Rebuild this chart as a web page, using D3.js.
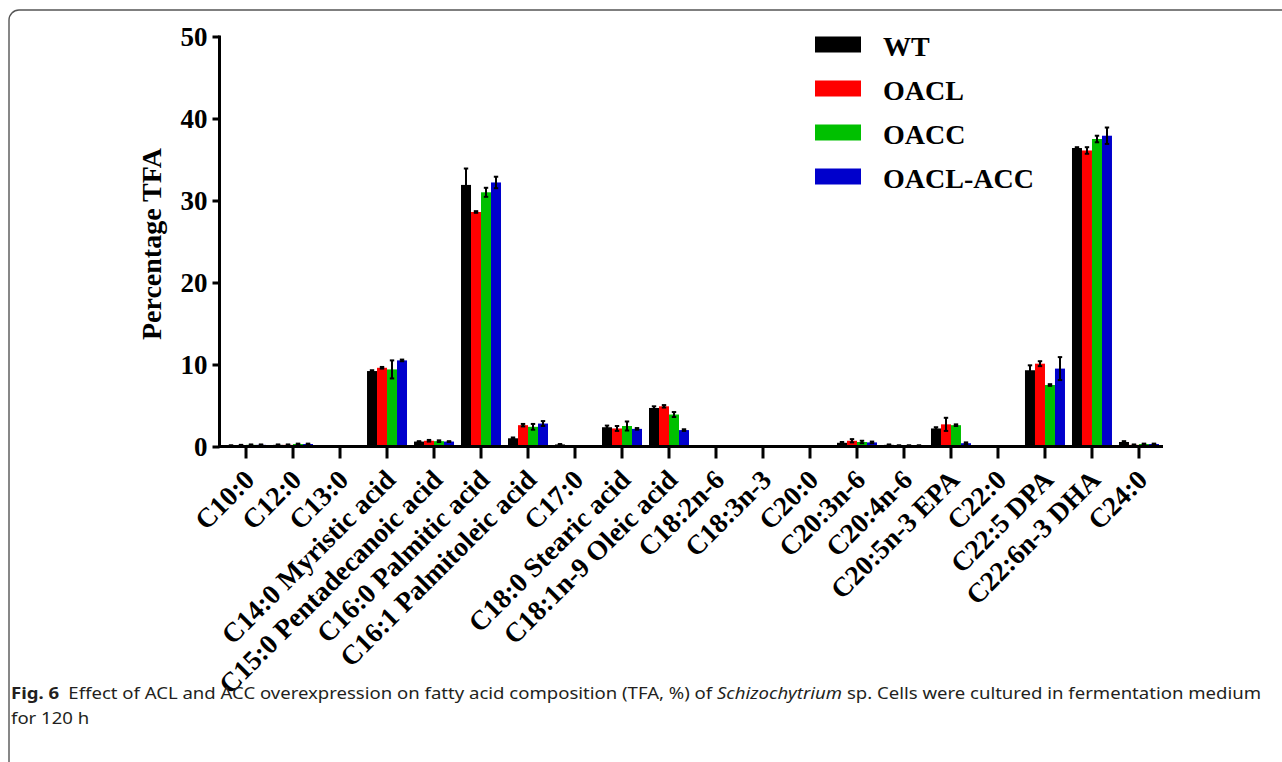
<!DOCTYPE html>
<html>
<head>
<meta charset="utf-8">
<script src="https://cdn.jsdelivr.net/npm/d3@7"></script>
<style>
  html, body { margin: 0; padding: 0; background: #fff; }
  svg { display: block; }
</style>
</head>
<body>
<svg id="chart" width="1282" height="762"></svg>
<script>
// Fatty acid categories along the x axis
const categories = [
  "C10:0", "C12:0", "C13:0", "C14:0 Myristic acid", "C15:0 Pentadecanoic acid",
  "C16:0 Palmitic acid", "C16:1 Palmitoleic acid", "C17:0", "C18:0 Stearic acid",
  "C18:1n-9 Oleic acid", "C18:2n-6", "C18:3n-3", "C20:0", "C20:3n-6", "C20:4n-6",
  "C20:5n-3 EPA", "C22:0", "C22:5 DPA", "C22:6n-3 DHA", "C24:0"
];

// Strains (series)
const seriesNames = ["WT", "OACL", "OACC", "OACL-ACC"];
const seriesColors = ["#000000", "#ff0000", "#00c000", "#0000cc"];

// Percentage of total fatty acids, per strain
const wt      = [0.10, 0.20, 0, 9.2, 0.60, 31.9, 1.00, 0.25, 2.35, 4.7, 0, 0, 0, 0.45, 0.20, 2.2, 0, 9.3, 36.4, 0.55];
const oacl    = [0.15, 0.20, 0, 9.6, 0.70, 28.6, 2.60, 0,    2.20, 4.9, 0, 0, 0, 0.70, 0.10, 2.7, 0, 10.1, 36.1, 0.20];
const oacc    = [0.20, 0.30, 0, 9.4, 0.65, 31.0, 2.40, 0,    2.50, 3.9, 0, 0, 0, 0.55, 0.10, 2.6, 0, 7.5, 37.5, 0.30];
const oaclAcc = [0.20, 0.30, 0, 10.5, 0.60, 32.2, 2.80, 0,   2.15, 2.0, 0, 0, 0, 0.50, 0.10, 0.4, 0, 9.5, 37.9, 0.30];

// Standard deviations
const wtErr      = [0.05, 0.05, 0, 0.1, 0.05, 2.0, 0.10, 0.05, 0.20, 0.20, 0, 0, 0, 0.10, 0.05, 0.15, 0, 0.6, 0.1, 0.10];
const oaclErr    = [0.05, 0.05, 0, 0.1, 0.10, 0.1, 0.15, 0,    0.30, 0.15, 0, 0, 0, 0.20, 0.05, 0.80, 0, 0.3, 0.4, 0.05];
const oaccErr    = [0.05, 0.05, 0, 1.1, 0.10, 0.55, 0.35, 0,   0.55, 0.30, 0, 0, 0, 0.15, 0.05, 0.10, 0, 0.1, 0.4, 0.05];
const oaclAccErr = [0.05, 0.05, 0, 0.1, 0.05, 0.7, 0.30, 0,    0.10, 0.10, 0, 0, 0, 0.10, 0.05, 0.10, 0, 1.4, 1.0, 0.05];

const yTicks = [0, 10, 20, 30, 40, 50];
const yTitle = "Percentage TFA";

const seriesValues = [wt, oacl, oacc, oaclAcc];
const seriesErrors = [wtErr, oaclErr, oaccErr, oaclAccErr];

const svg = d3.select("#chart");
const serif = "'Liberation Serif', 'Times New Roman', serif";

// Panel frame with rounded corner
svg.append("rect")
  .attr("x", 9).attr("y", 10)
  .attr("width", 1300).attr("height", 900)
  .attr("rx", 10).attr("ry", 10)
  .attr("fill", "none").attr("stroke", "#555").attr("stroke-width", 1.4);

const axisX = 219.5, baseY = 446.5, topY = 36.5, rightX = 1163;

const x0 = d3.scaleBand().domain(categories).range([222.5, 1162.5]).paddingInner(0.149).paddingOuter(0.075);
const x1 = d3.scaleBand().domain(seriesNames).range([0, x0.bandwidth()]);
const y = d3.scaleLinear().domain([0, 50]).range([baseY, topY]);

// Bars
const rows = [];
categories.forEach((c, i) => {
  seriesNames.forEach((s, j) => {
    rows.push({ cat: c, series: s, j, v: seriesValues[j][i], e: seriesErrors[j][i] });
  });
});

const barG = svg.append("g");
barG.selectAll("rect").data(rows).join("rect")
  .attr("x", d => x0(d.cat) + x1(d.series))
  .attr("y", d => y(d.v))
  .attr("width", x1.bandwidth())
  .attr("height", d => baseY - y(d.v))
  .attr("fill", d => seriesColors[d.j]);

// Error bars
const errG = svg.append("g").attr("stroke", "#000").attr("stroke-width", 2);
rows.filter(d => d.v > 0).forEach(d => {
  const cx = x0(d.cat) + x1(d.series) + x1.bandwidth() / 2;
  const y1 = y(d.v + d.e), y2 = y(Math.max(0, d.v - d.e));
  errG.append("line").attr("x1", cx).attr("x2", cx).attr("y1", y1).attr("y2", y2);
  errG.append("line").attr("x1", cx - 2.2).attr("x2", cx + 2.2).attr("y1", y1).attr("y2", y1);
  errG.append("line").attr("x1", cx - 2.2).attr("x2", cx + 2.2).attr("y1", y2).attr("y2", y2);
});

// Y axis
const yAxis = svg.append("g")
  .attr("transform", `translate(${axisX},0)`)
  .call(d3.axisLeft(y).tickValues(yTicks).tickSize(7).tickSizeOuter(0).tickPadding(5));
yAxis.select(".domain").attr("stroke-width", 3).attr("d", `M0,${topY - 1}V${baseY + 1.5}`);
yAxis.selectAll(".tick line").attr("stroke-width", 3);
yAxis.selectAll(".tick text")
  .attr("font-family", serif).attr("font-weight", "bold").attr("font-size", 27).attr("fill", "#000");

// X axis
const xAxis = svg.append("g")
  .attr("transform", `translate(0,${baseY})`)
  .call(d3.axisBottom(x0).tickSize(12).tickSizeOuter(0).tickFormat(""));
xAxis.select(".domain").attr("stroke-width", 3).attr("d", `M${axisX - 1.5},0H${rightX}`);
xAxis.selectAll(".tick line").attr("stroke-width", 3);

// Rotated category labels
svg.append("g").selectAll("text").data(categories).join("text")
  .attr("transform", d => `translate(${x0(d) + x0.bandwidth() / 2 + 10},${baseY + 35}) rotate(-45)`)
  .attr("text-anchor", "end")
  .attr("font-family", serif).attr("font-weight", "bold").attr("font-size", 27.5)
  .text(d => d);

// Y axis title
svg.append("text")
  .attr("transform", `translate(161,244) rotate(-90)`)
  .attr("text-anchor", "middle")
  .attr("font-family", serif).attr("font-weight", "bold").attr("font-size", 28)
  .text(yTitle);

// Legend
const legend = svg.append("g");
seriesNames.forEach((s, j) => {
  const cy = 44.5 + j * 44;
  legend.append("rect").attr("x", 815).attr("y", cy - 8).attr("width", 46).attr("height", 16)
    .attr("fill", seriesColors[j]);
  legend.append("text").attr("x", 883).attr("y", cy + 11)
    .attr("font-family", serif).attr("font-weight", "bold").attr("font-size", 28)
    .text(s);
});

// Figure caption
const cap = svg.append("g").attr("font-family", "'Noto Sans', 'Open Sans', sans-serif")
  .attr("font-size", 16).attr("fill", "#231f20");
const line1 = cap.append("text").attr("x", 0).attr("y", 0);
line1.append("tspan").attr("font-weight", "bold").text("Fig. 6");
line1.append("tspan").text("\u2002Effect of ACL and ACC overexpression on fatty acid composition (TFA, %) of ");
line1.append("tspan").attr("font-style", "italic").text("Schizochytrium");
line1.append("tspan").text(" sp. Cells were cultured in fermentation medium");
cap.append("text").attr("x", 0).attr("y", 25).text("for 120 h");
const w = line1.node().getComputedTextLength();
const k = 1251 / w;
cap.attr("transform", `translate(11,699) scale(${k},1)`);
</script>
</body>
</html>
